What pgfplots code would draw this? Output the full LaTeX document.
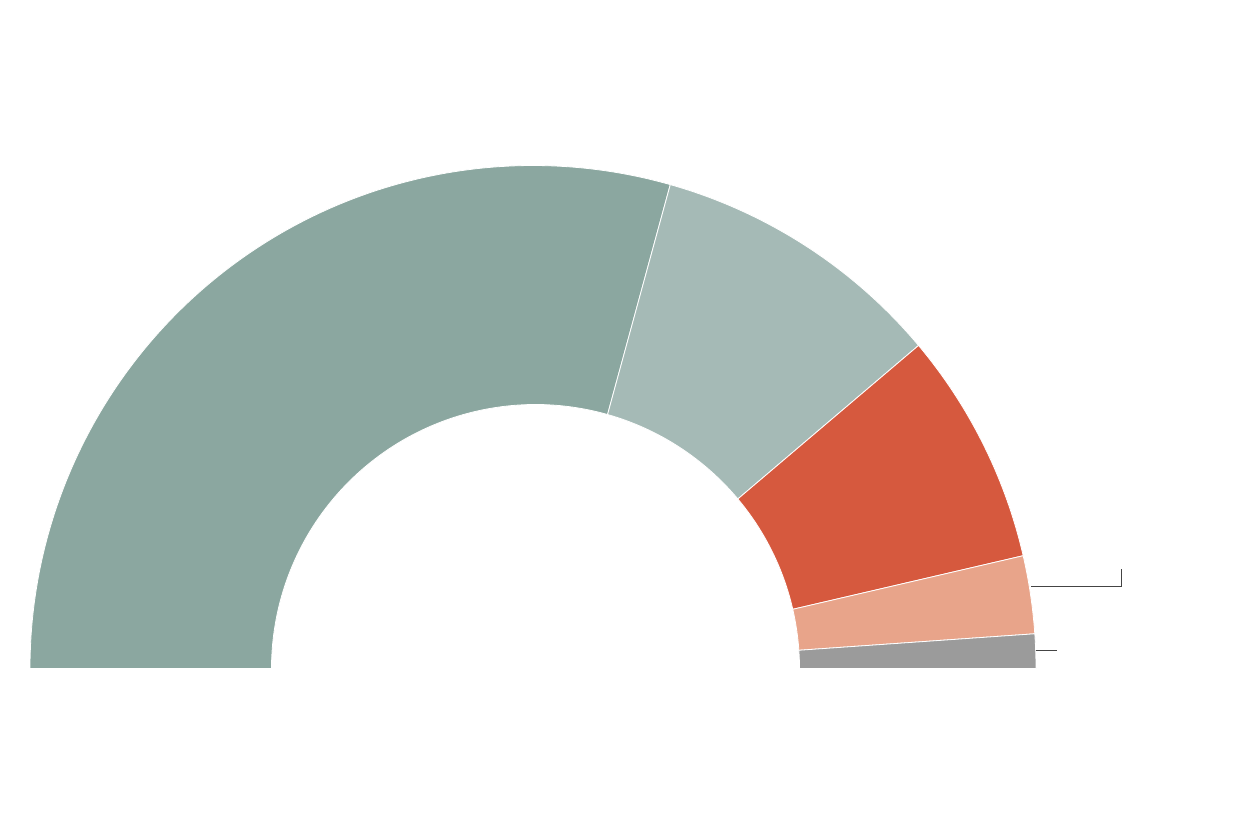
\documentclass[border=0pt]{standalone}
\usepackage{pgfplots}
\usepackage{pgfplotstable}
\usetikzlibrary{calc}
\pgfplotsset{compat=1.18}
\definecolor{c1}{HTML}{8BA7A0}
\definecolor{c2}{HTML}{A5BAB6}
\definecolor{c3}{HTML}{D6593E}
\definecolor{c4}{HTML}{E8A48A}
\definecolor{c5}{HTML}{9B9B9B}
\definecolor{leader}{HTML}{444444}
\pgfplotstableread{
share
58.8
19.0
15.0
5.0
2.2
}\shares
\begin{document}
\begin{tikzpicture}
\pgfplotstablegetelem{0}{share}\of\shares \let\va\pgfplotsretval
\pgfplotstablegetelem{1}{share}\of\shares \let\vb\pgfplotsretval
\pgfplotstablegetelem{2}{share}\of\shares \let\vc\pgfplotsretval
\pgfplotstablegetelem{3}{share}\of\shares \let\vd\pgfplotsretval
\pgfplotstablegetelem{4}{share}\of\shares \let\ve\pgfplotsretval
\pgfmathsetmacro{\aZ}{180}
\pgfmathsetmacro{\aA}{\aZ-1.8*\va}
\pgfmathsetmacro{\aB}{\aA-1.8*\vb}
\pgfmathsetmacro{\aC}{\aB-1.8*\vc}
\pgfmathsetmacro{\aD}{\aC-1.8*\vd}
\pgfmathsetmacro{\aE}{\aD-1.8*\ve}
\newcommand{\sector}[3]{%
  \fill[#1, draw=white, line width=0.8pt] (axis cs:533,159.5) ++(#2:503pt)
    arc[start angle=#2, end angle=#3, radius=503pt]
    -- ($(axis cs:535.5,159.5)+(#3:264pt)$)
    arc[start angle=#3, end angle=#2, radius=264pt] -- cycle;}
\begin{axis}[
  x=1pt, y=1pt,
  xmin=0, xmax=1240, ymin=0, ymax=828,
  hide axis, scale only axis, clip=false]
\path (axis cs:0,0) rectangle (axis cs:1240,828);
\sector{c1}{\aZ}{\aA}
\sector{c2}{\aA}{\aB}
\sector{c3}{\aB}{\aC}
\sector{c4}{\aC}{\aD}
\sector{c5}{\aD}{\aE}
\addplot[leader, line width=1pt] coordinates {(1031,241.7) (1121.3,241.7) (1121.3,259)};
\addplot[leader, line width=1pt] coordinates {(1035.7,177.7) (1056.7,177.7)};
\end{axis}
\end{tikzpicture}
\end{document}
